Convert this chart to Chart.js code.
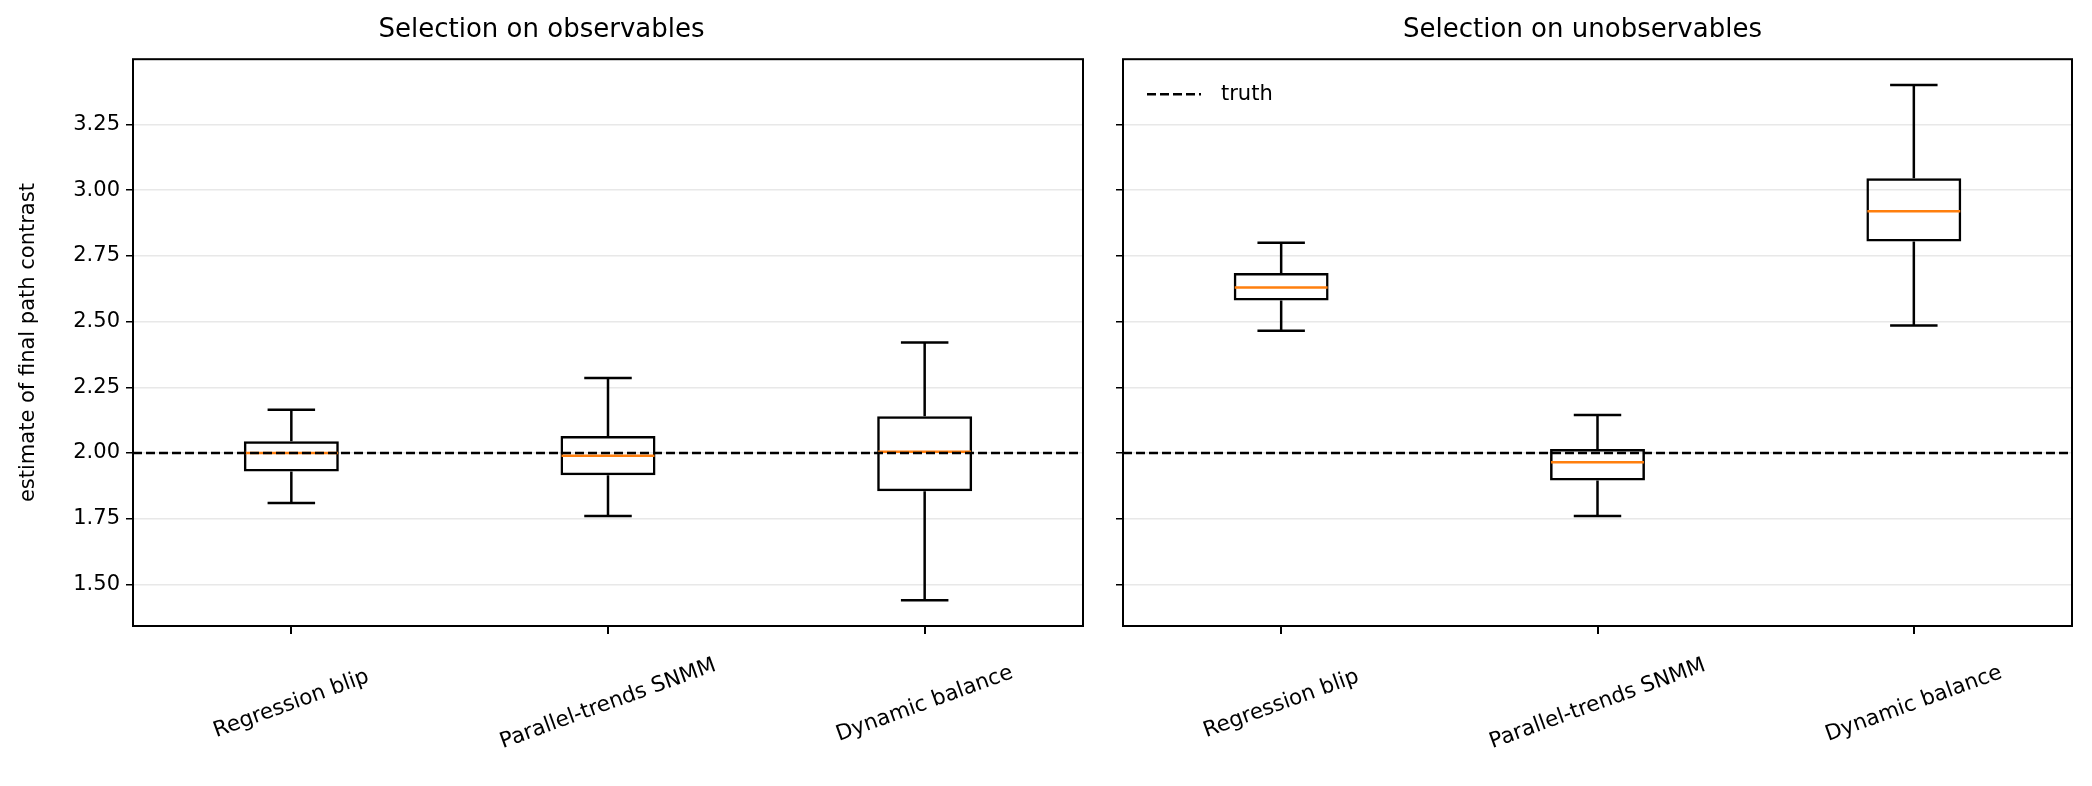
<!DOCTYPE html>
<html>
<head>
<meta charset="utf-8">
<script src="https://cdn.jsdelivr.net/npm/chart.js@4"></script>
<style>
  body { margin: 0; background: #fff; }
  .wrap { position: absolute; top: 0; height: 786px; }
</style>
</head>
<body>
<div class="wrap" style="left:0;width:1093px"><canvas id="left"></canvas></div>
<div class="wrap" style="left:1093px;width:999px"><canvas id="right"></canvas></div>
<script>
// categories and tick labels
const methods = ['Regression blip', 'Parallel-trends SNMM', 'Dynamic balance'];
const yTicks = [1.5, 1.75, 2.0, 2.25, 2.5, 2.75, 3.0, 3.25];
const truth = 2.0;

// selection on observables
const obsLow = [1.81, 1.76, 1.44];
const obsQ1 = [1.93, 1.915, 1.855];
const obsMedian = [2.0, 1.99, 2.005];
const obsQ3 = [2.045, 2.065, 2.14];
const obsHigh = [2.165, 2.285, 2.42];

// selection on unobservables
const unobsLow = [2.465, 1.76, 2.485];
const unobsQ1 = [2.58, 1.895, 2.805];
const unobsMedian = [2.63, 1.965, 2.92];
const unobsQ3 = [2.685, 2.015, 3.045];
const unobsHigh = [2.80, 2.145, 3.40];

const FONT = 'DejaVu Sans';

// whiskers, medians, truth line, frame, x labels
const boxExtras = {
  id: 'boxExtras',
  afterDatasetsDraw(chart, args, opts) {
    const ctx = chart.ctx, x = chart.scales.x, y = chart.scales.y, a = chart.chartArea;
    const meta = chart.getDatasetMeta(0);
    ctx.save();
    opts.low.forEach((lo, i) => {
      const bar = meta.data[i];
      const cx = x.getPixelForValue(i);
      const half = bar.width / 2, cap = half / 2;
      ctx.strokeStyle = '#000'; ctx.lineWidth = 2.5;
      ctx.beginPath();
      ctx.moveTo(cx, y.getPixelForValue(opts.q1[i])); ctx.lineTo(cx, y.getPixelForValue(lo));
      ctx.moveTo(cx - cap, y.getPixelForValue(lo)); ctx.lineTo(cx + cap, y.getPixelForValue(lo));
      ctx.moveTo(cx, y.getPixelForValue(opts.q3[i])); ctx.lineTo(cx, y.getPixelForValue(opts.high[i]));
      ctx.moveTo(cx - cap, y.getPixelForValue(opts.high[i])); ctx.lineTo(cx + cap, y.getPixelForValue(opts.high[i]));
      ctx.stroke();
      ctx.strokeStyle = '#ff7f0e';
      ctx.beginPath();
      const my = y.getPixelForValue(opts.median[i]);
      ctx.moveTo(cx - half + 1, my); ctx.lineTo(cx + half - 1, my);
      ctx.stroke();
    });
    // truth line
    const ty = y.getPixelForValue(truth);
    ctx.strokeStyle = '#000'; ctx.lineWidth = 2.5; ctx.setLineDash([9, 4]);
    ctx.beginPath(); ctx.moveTo(a.left, ty); ctx.lineTo(a.right, ty); ctx.stroke();
    if (opts.legend) {
      ctx.beginPath(); ctx.moveTo(a.left + 24, a.top + 35); ctx.lineTo(a.left + 78, a.top + 35); ctx.stroke();
      ctx.setLineDash([]);
      ctx.fillStyle = '#000'; ctx.font = '21px ' + FONT; ctx.textAlign = 'left'; ctx.textBaseline = 'middle';
      ctx.fillText('truth', a.left + 98, a.top + 35);
    }
    ctx.setLineDash([]);
    ctx.lineWidth = 2; ctx.strokeStyle = '#000';
    ctx.strokeRect(a.left, a.top, a.right - a.left, a.bottom - a.top);
    // x labels, centered and rotated like matplotlib
    ctx.fillStyle = '#000'; ctx.font = '21.5px ' + FONT; ctx.textAlign = 'center'; ctx.textBaseline = 'middle';
    methods.forEach((m, i) => {
      ctx.save();
      ctx.translate(x.getPixelForValue(i), a.bottom + 78);
      ctx.rotate(-20 * Math.PI / 180);
      ctx.fillText(m, 0, 0);
      ctx.restore();
    });
    ctx.restore();
  }
};

function makeChart(id, title, low, q1, median, q3, high, isLeft) {
  return new Chart(document.getElementById(id), {
    type: 'bar',
    data: {
      labels: methods,
      datasets: [{
        data: q1.map((v, i) => [v, q3[i]]),
        backgroundColor: 'rgba(0,0,0,0)',
        borderColor: '#000',
        borderWidth: 2.5,
        borderSkipped: false,
        barPercentage: 0.3,
        categoryPercentage: 1
      }]
    },
    options: {
      responsive: true,
      maintainAspectRatio: false,
      animation: false,
      layout: { padding: { right: isLeft ? 10 : 20, top: 0 } },
      plugins: {
        legend: { display: false },
        tooltip: { enabled: false },
        title: {
          display: true, text: title, color: '#000',
          font: { family: FONT, size: 26, weight: 'normal' },
          padding: { top: 15, bottom: 13 }
        },
        boxExtras: { low, q1, median, q3, high, legend: !isLeft }
      },
      scales: {
        x: {
          ticks: { display: false },
          grid: { drawOnChartArea: false, tickColor: '#000', tickLength: 8, lineWidth: 2, offset: false },
          border: { display: false },
          afterFit: s => { s.height = 160; }
        },
        y: {
          min: 1.342, max: 3.498,
          afterBuildTicks: s => { s.ticks = yTicks.map(v => ({ value: v })); },
          ticks: {
            display: isLeft, color: '#000', padding: 6,
            font: { family: FONT, size: 21 },
            callback: v => Number(v).toFixed(2)
          },
          grid: { color: '#e8e8e8', lineWidth: 1.5, tickColor: '#000', tickLength: 7 },
          border: { display: false },
          title: {
            display: isLeft, text: 'estimate of final path contrast', color: '#000',
            font: { family: FONT, size: 21 }, padding: { top: 16, bottom: 4 }
          },
          afterFit: s => { s.width = isLeft ? 133 : 30; }
        }
      }
    },
    plugins: [boxExtras]
  });
}

makeChart('left', 'Selection on observables', obsLow, obsQ1, obsMedian, obsQ3, obsHigh, true);
makeChart('right', 'Selection on unobservables', unobsLow, unobsQ1, unobsMedian, unobsQ3, unobsHigh, false);
</script>
</body>
</html>
